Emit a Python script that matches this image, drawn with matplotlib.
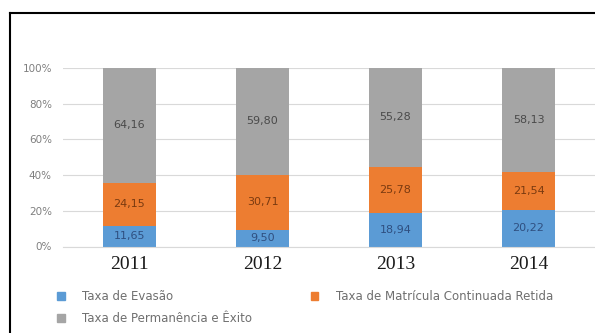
import numpy as np
import matplotlib.pyplot as plt
from matplotlib.lines import Line2D
from matplotlib.patches import Patch

# Taxas por ano (%)
anos = ['2011', '2012', '2013', '2014']
evasao = [11.65, 9.50, 18.94, 20.22]
retida = [24.15, 30.71, 25.78, 21.54]
permanencia = [64.16, 59.80, 55.28, 58.13]

nomes = ['Taxa de Evasão', 'Taxa de Matrícula Continuada Retida',
         'Taxa de Permanência e Êxito']
cores = ['#5b9bd5', '#ed7d31', '#a5a5a5']
cores_texto = ['#2f4f80', '#7a3a10', '#4a4a4a']

fig = plt.figure(figsize=(5.95, 3.33), dpi=100)
ax = fig.add_axes([63 / 595, 1 - 246.5 / 333, 1 - 63 / 595, (246.5 - 68) / 333])

x = np.arange(len(anos))
base = np.zeros(len(anos))
series = [evasao, retida, permanencia]
total = np.array(evasao) + np.array(retida) + np.array(permanencia)
for vals, cor, ctxt in zip(series, cores, cores_texto):
    vals = np.array(vals)
    # normaliza para 100% empilhado
    h = vals / total * 100
    ax.bar(x, h, bottom=base, width=0.4, color=cor, zorder=2)
    for xi, b, hi, v in zip(x, base, h, vals):
        ax.text(xi, b + hi / 2, f'{v:.2f}'.replace('.', ','), ha='center',
                va='center', fontsize=8, color=ctxt, zorder=3)
    base = base + h

ax.set_xlim(-0.5, 3.5)
ax.set_ylim(0, 100)
ax.set_yticks(np.arange(0, 101, 20))
ax.set_yticklabels([f'{v}%' for v in range(0, 101, 20)])
ax.yaxis.grid(True, color='#d9d9d9', linewidth=0.8, zorder=0)
ax.set_axisbelow(True)
for s in ['top', 'right', 'left']:
    ax.spines[s].set_visible(False)
ax.spines['bottom'].set_color('#d9d9d9')
ax.tick_params(axis='y', length=0, pad=8, labelsize=7.5, labelcolor='#7f7f7f')
ax.tick_params(axis='x', length=0, pad=7)
ax.set_xticks(x)
ax.set_xticklabels(anos, fontsize=14, family='Liberation Serif', color='#1a1a1a')

# legenda em duas colunas
handles = [Patch(color=cores[0]), Patch(color=cores[2]), Patch(color=cores[1])]
labels = [nomes[0], nomes[2], nomes[1]]
fig.legend(handles, labels, loc='upper left', bbox_to_anchor=(57 / 595, 1 - 290 / 333),
           ncol=2, frameon=False, fontsize=8.5, labelcolor='#6f6f6f',
           handlelength=0.65, handleheight=0.65, handletextpad=1.45,
           columnspacing=5.0, labelspacing=0.75, borderpad=0, borderaxespad=0)

# moldura
fig.add_artist(Line2D([9.5 / 595, 9.5 / 595], [0, 1 - 12.5 / 333], color='black', lw=1.5))
fig.add_artist(Line2D([9.5 / 595, 1], [1 - 12.5 / 333, 1 - 12.5 / 333], color='black', lw=1.5))

fig.savefig('out.png', dpi=100)
